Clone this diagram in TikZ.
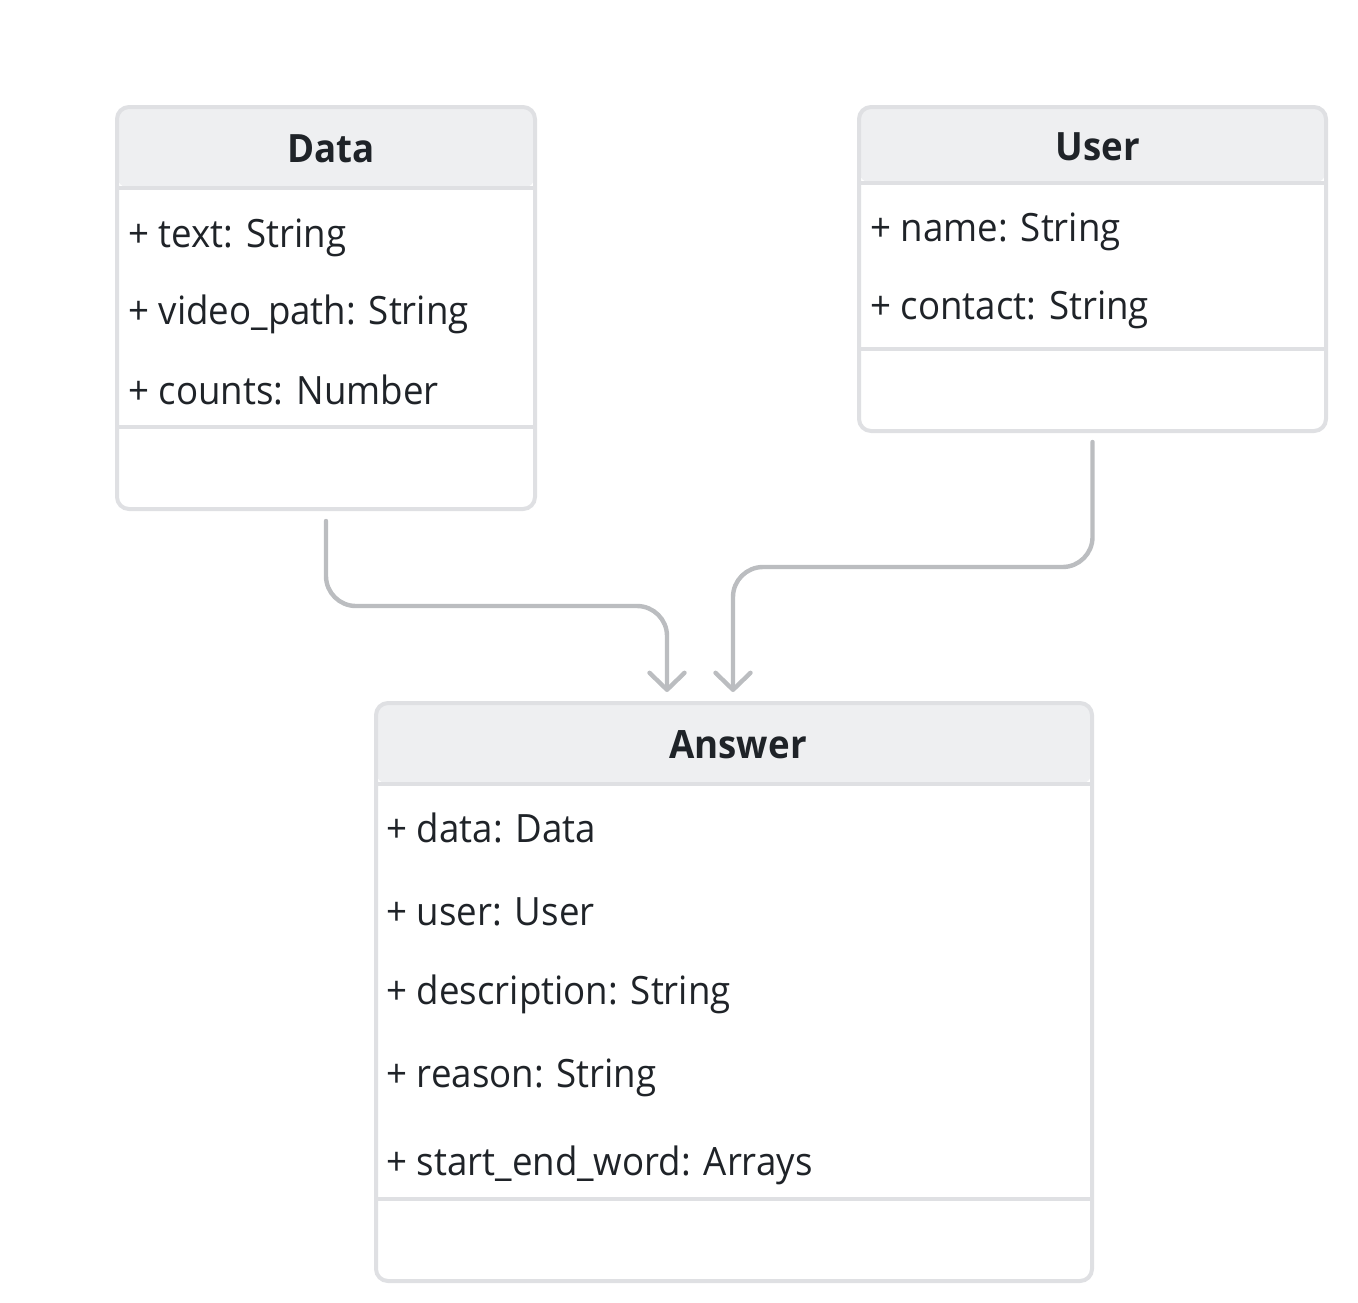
\documentclass[tikz,border=0pt]{standalone}
\usepackage{fontspec}
\setmainfont{Open Sans}[FakeStretch=0.94]
\usetikzlibrary{arrows.meta,calc}
\definecolor{boxline}{HTML}{DFE0E3}
\definecolor{headfill}{HTML}{EEEFF1}
\definecolor{connline}{HTML}{BBBDC0}
\definecolor{txt}{HTML}{1F2328}
\begin{document}
\begin{tikzpicture}[x=0.5pt,y=-0.5pt,
  classbox/.style={draw=boxline,line width=2pt,fill=white,rounded corners=6pt,
    inner sep=0pt,outer sep=0pt,rectangle},
  sepline/.style={draw=boxline,line width=1.6pt},
  attr/.style={anchor=base west,inner sep=0pt,text=txt,font=\fontsize{19.5}{22}\selectfont},
  head/.style={anchor=base,inner sep=0pt,text=txt,font=\fontsize{19.5}{22}\selectfont\bfseries},
  conn/.style={draw=connline,line width=2.2pt,rounded corners=15pt,line cap=round,
    -{Straight Barb[length=8.5pt,width=17.5pt,line cap=round,line join=round]}}
]
\useasboundingbox (0,0) rectangle (1358,1302);
% Data
\node[classbox,minimum width=209pt,minimum height=201pt,
  path picture={\fill[headfill] (path picture bounding box.north west) rectangle ([yshift=-40.5pt]path picture bounding box.north east);}]
  (data) at (326,308) {};
\draw[sepline] (data.west |- 0,188) -- (data.east |- 0,188);
\draw[sepline] (data.west |- 0,427) -- (data.east |- 0,427);
\node[head] (dataT) at (331,162) {Data};
\node[attr] (d1) at (128,247) {+ text: String};
\node[attr] (d2) at (128,324) {+ video\_path: String};
\node[attr] (d3) at (128,404) {+ counts: Number};
% User
\node[classbox,minimum width=233.5pt,minimum height=162pt,
  path picture={\fill[headfill] (path picture bounding box.north west) rectangle ([yshift=-38pt]path picture bounding box.north east);}]
  (user) at (1092.5,269) {};
\draw[sepline] (user.west |- 0,183) -- (user.east |- 0,183);
\draw[sepline] (user.west |- 0,349) -- (user.east |- 0,349);
\node[head] (userT) at (1098,160) {User};
\node[attr] (u1) at (870,241) {+ name: String};
\node[attr] (u2) at (870,319) {+ contact: String};
% Answer
\node[classbox,minimum width=358pt,minimum height=289pt,
  path picture={\fill[headfill] (path picture bounding box.north west) rectangle ([yshift=-40.5pt]path picture bounding box.north east);}]
  (answer) at (734,992) {};
\draw[sepline] (answer.west |- 0,784) -- (answer.east |- 0,784);
\draw[sepline] (answer.west |- 0,1199) -- (answer.east |- 0,1199);
\node[head] (answerT) at (738,758) {Answer};
\node[attr] (a1t) at (386,842) {+ data: Data};
\node[attr] (a2t) at (386,925) {+ user: User};
\node[attr] (a3t) at (386,1004) {+ description: String};
\node[attr] (a4t) at (386,1087) {+ reason: String};
\node[attr] (a5t) at (386,1175) {+ start\_end\_word: Arrays};
% connectors
\coordinate (e1) at ([xshift=-33.5pt,yshift=5.5pt]answer.north);
\coordinate (e2) at ([xshift=-0.5pt,yshift=5.5pt]answer.north);
\draw[conn] ([yshift=-6pt]data.south) -- (data.south |- 0,606) -- (e1 |- 0,606) -- (e1);
\draw[conn] ([yshift=-5.5pt]user.south) -- (user.south |- 0,567) -- (e2 |- 0,567) -- (e2);
\end{tikzpicture}
\end{document}
